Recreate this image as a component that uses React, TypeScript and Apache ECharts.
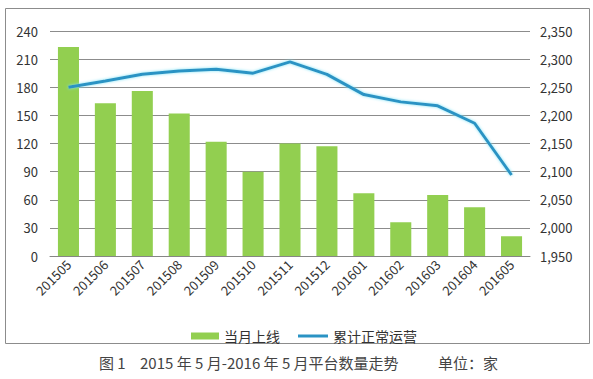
import React, { useEffect, useRef } from "react";
import * as echarts from "echarts";

const categories = ["201505","201506","201507","201508","201509","201510","201511","201512","201601","201602","201603","201604","201605"];
const monthlyOnline = [223, 163, 176, 152, 122, 90, 120, 117, 67, 36, 65, 52, 21];
const cumulativeNormal = [2250, 2261, 2273, 2279, 2282, 2275, 2295, 2273, 2237, 2224, 2217, 2186, 2094];
const seriesNames = ["当月上线", "累计正常运营"];
const captionParts = ["图 1", "2015 年 5 月-2016 年 5 月平台数量走势", "单位：家"];

export default function App() {
  const ref = useRef<HTMLDivElement>(null);
  useEffect(() => {
    if (!ref.current) return;
    const chart = echarts.init(ref.current, null, { renderer: "svg" });
    const font = "'Noto Sans CJK SC', 'Open Sans', sans-serif";
    const capStyle = { fontSize: 15, fill: "#444", fontFamily: font };
    chart.setOption({
      animation: false,
      backgroundColor: "#ffffff",
      textStyle: { fontFamily: font },
      grid: { left: 50, right: 63, top: 31, bottom: 123 },
      legend: [
        {
          top: 324,
          left: 186,
          itemWidth: 28,
          itemHeight: 7,
          textStyle: { fontSize: 14, color: "#333", fontFamily: font },
          data: [{ name: seriesNames[0], icon: "rect" }],
        },
        {
          top: 324,
          left: 293,
          itemWidth: 30,
          itemHeight: 3,
          textStyle: { fontSize: 14, color: "#333", fontFamily: font },
          data: [{ name: seriesNames[1], icon: "rect" }],
        },
      ],
      xAxis: {
        type: "category",
        data: categories,
        axisTick: { show: false },
        axisLine: { lineStyle: { color: "#868686", width: 1 } },
        axisLabel: { rotate: 45, fontSize: 13, color: "#333", margin: 6, interval: 0 },
      },
      yAxis: [
        {
          type: "value",
          min: 0,
          max: 240,
          interval: 30,
          axisLine: { show: false },
          axisTick: { show: false },
          splitLine: { lineStyle: { color: "#8c8c8c", width: 1 } },
          axisLabel: { fontSize: 13, color: "#333", margin: 12 },
        },
        {
          type: "value",
          min: 1950,
          max: 2350,
          interval: 50,
          axisLine: { show: false },
          axisTick: { show: false },
          splitLine: { show: false },
          axisLabel: {
            fontSize: 13,
            color: "#333",
            margin: 10,
            formatter: (v: number) => v.toLocaleString("en-US"),
          },
        },
      ],
      series: [
        {
          name: seriesNames[0],
          type: "bar",
          data: monthlyOnline,
          barWidth: "57%",
          itemStyle: { color: "#92cf50" },
          yAxisIndex: 0,
        },
        {
          name: seriesNames[1],
          type: "line",
          data: cumulativeNormal,
          yAxisIndex: 1,
          symbol: "none",
          lineStyle: {
            color: "#2a93c4",
            width: 3,
            shadowColor: "#7fe3f7",
            shadowBlur: 3,
          },
          itemStyle: { color: "#2a93c4" },
        },
      ],
      graphic: [
        {
          type: "rect",
          shape: { x: 5.5, y: 8.5, width: 584, height: 335 },
          style: { fill: "none", stroke: "#8c8c8c", lineWidth: 1 },
          silent: true,
        },
        { type: "text", left: 99, top: 355, style: { text: captionParts[0], ...capStyle } },
        { type: "text", left: 140, top: 355, style: { text: captionParts[1], ...capStyle } },
        { type: "text", left: 438, top: 355, style: { text: captionParts[2], ...capStyle } },
      ],
    });
    return () => chart.dispose();
  }, []);
  return (
    <div
      ref={ref}
      style={{ position: "fixed", left: 0, top: 0, width: 593, height: 379 }}
    />
  );
}
